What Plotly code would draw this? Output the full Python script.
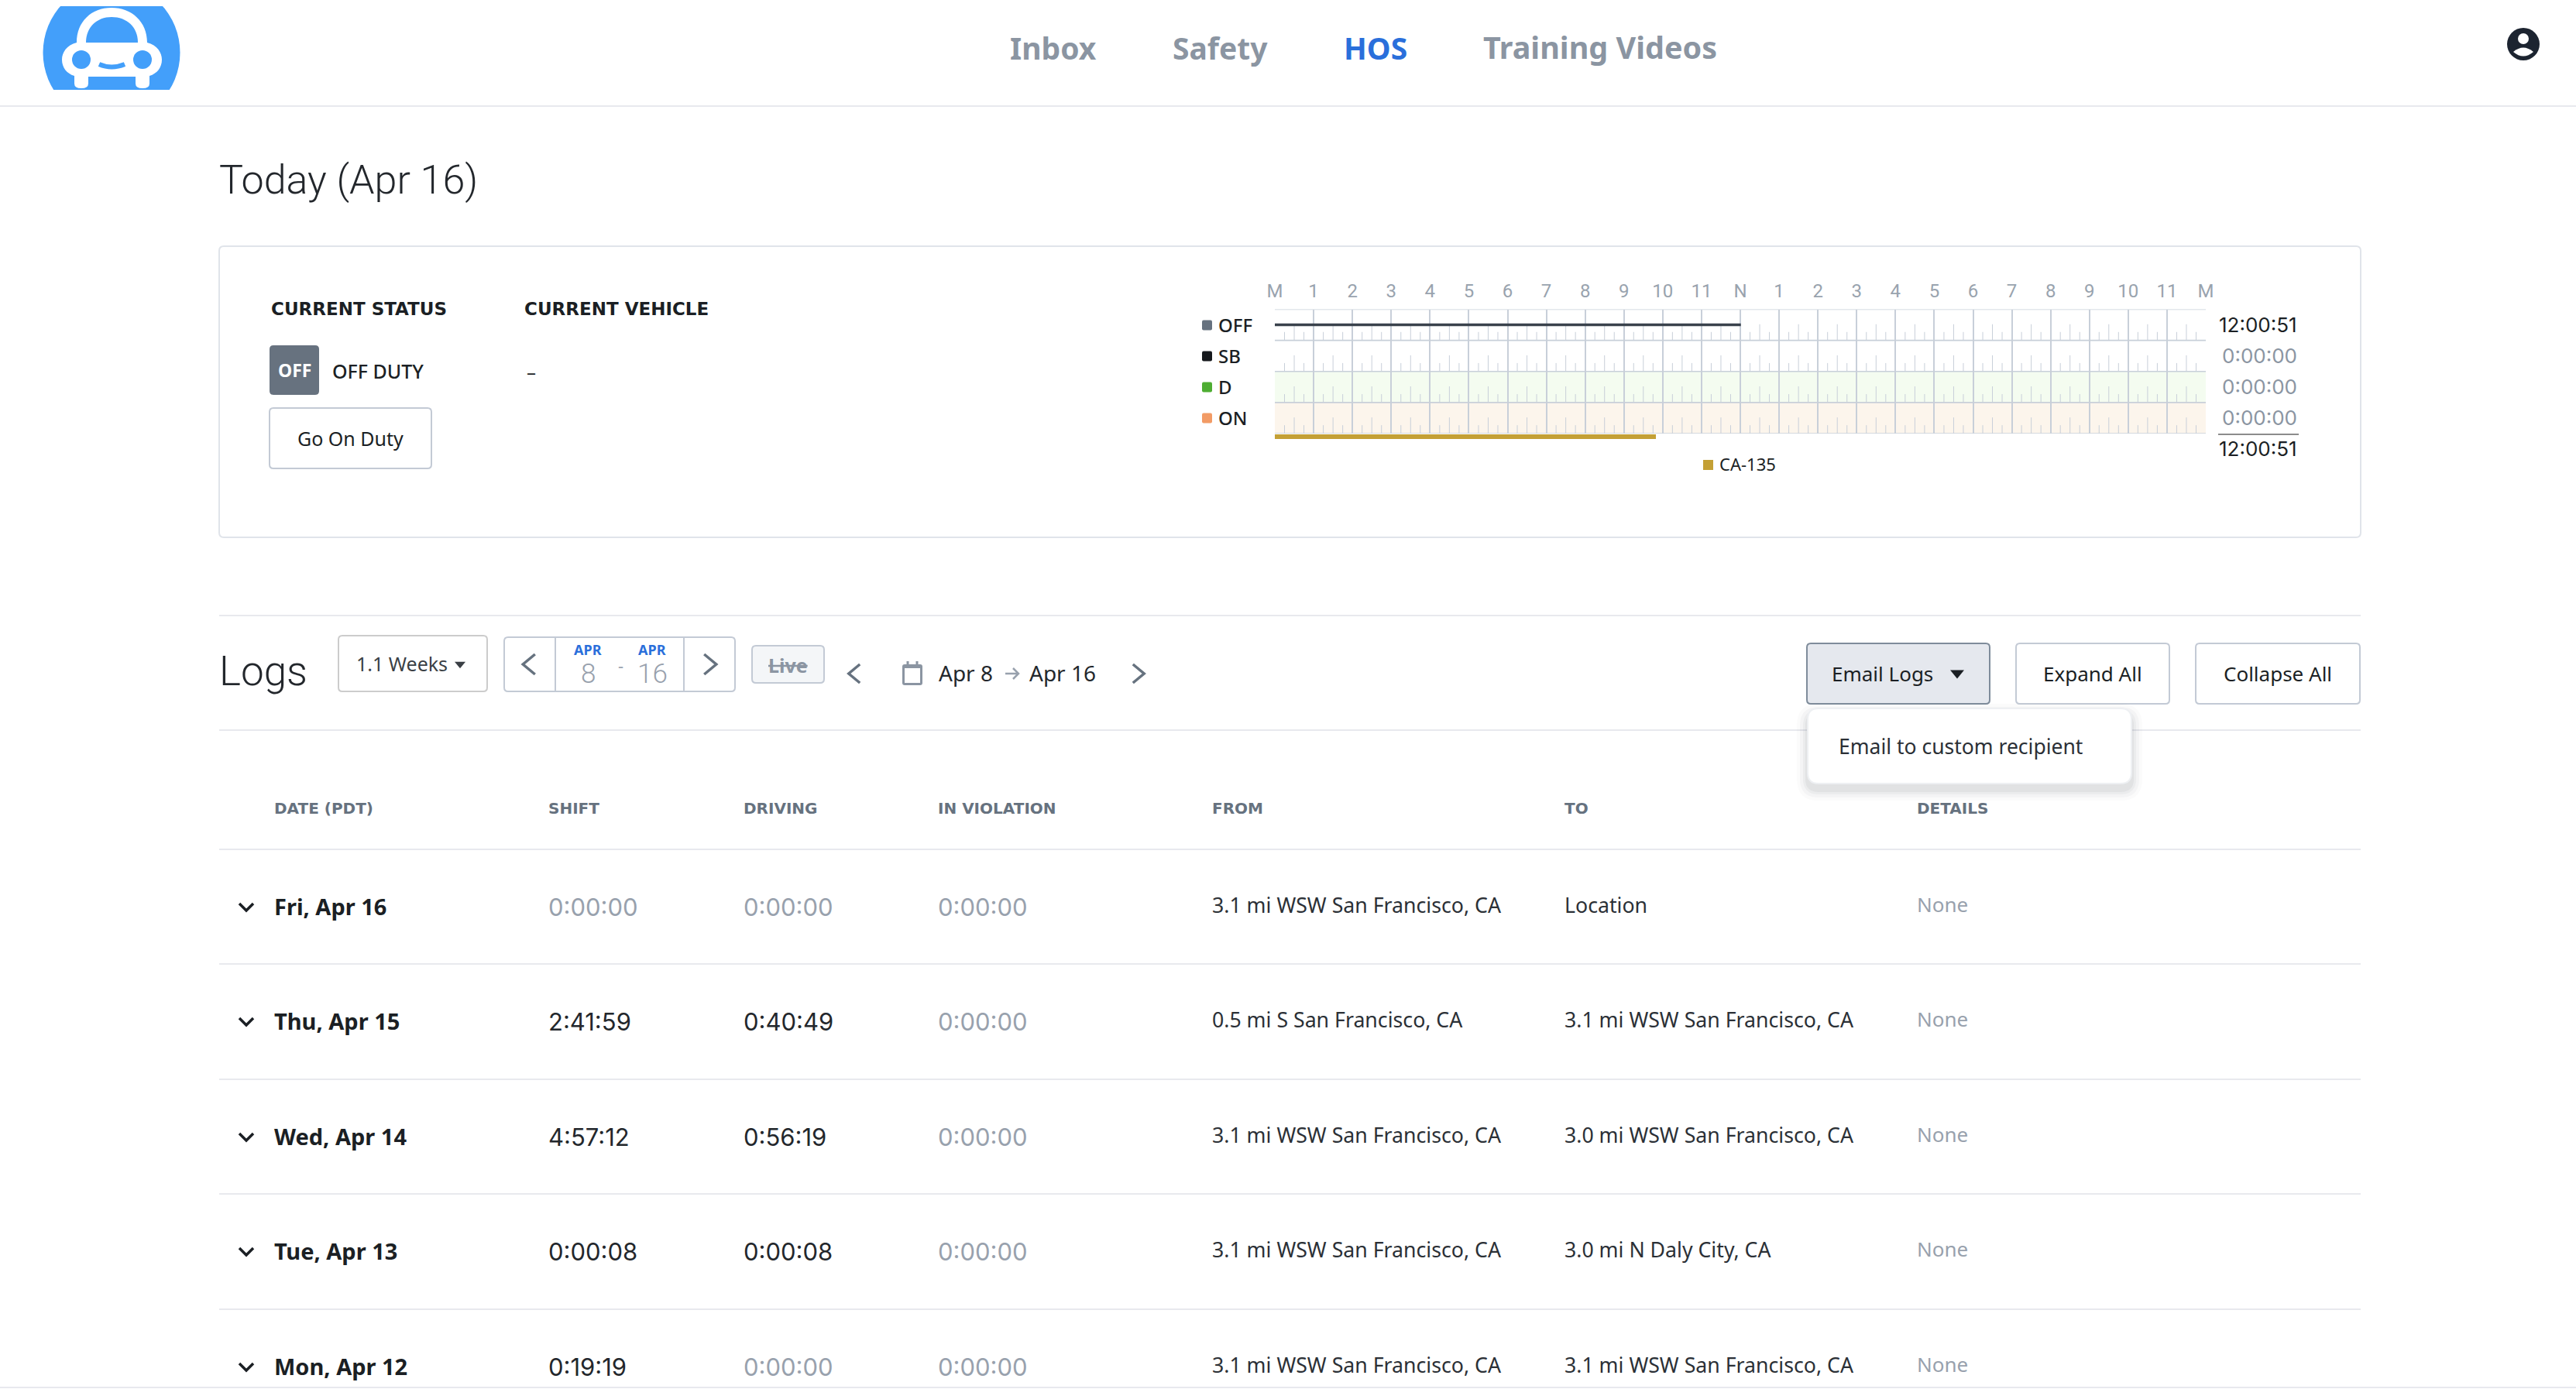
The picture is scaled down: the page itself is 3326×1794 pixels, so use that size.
import plotly.graph_objects as go

# duty log chart
status_names = ['OFF', 'SB', 'D', 'ON']
status_colors = ['#66727f', '#16191d', '#4ead32', '#f29b65']
status_totals = ['12:00:51', '0:00:00', '0:00:00', '0:00:00']
total_time = '12:00:51'
hour_labels = ['M', '1', '2', '3', '4', '5', '6', '7', '8', '9', '10', '11',
               'N', '1', '2', '3', '4', '5', '6', '7', '8', '9', '10', '11', 'M']
off_duty_start = 0
off_duty_end = 12.014
vehicle_name = 'CA-135'
vehicle_hours = 9.82

# table
table_headers = ['DATE (PDT)', 'SHIFT', 'DRIVING', 'IN VIOLATION', 'FROM', 'TO', 'DETAILS']
log_dates = ['Fri, Apr 16', 'Thu, Apr 15', 'Wed, Apr 14', 'Tue, Apr 13', 'Mon, Apr 12']
log_shift = ['0:00:00', '2:41:59', '4:57:12', '0:00:08', '0:19:19']
log_driving = ['0:00:00', '0:40:49', '0:56:19', '0:00:08', '0:00:00']
log_violation = ['0:00:00', '0:00:00', '0:00:00', '0:00:00', '0:00:00']
log_from = ['3.1 mi WSW San Francisco, CA', '0.5 mi S San Francisco, CA',
            '3.1 mi WSW San Francisco, CA', '3.1 mi WSW San Francisco, CA',
            '3.1 mi WSW San Francisco, CA']
log_to = ['Location', '3.1 mi WSW San Francisco, CA', '3.0 mi WSW San Francisco, CA',
          '3.0 mi N Daly City, CA', '3.1 mi WSW San Francisco, CA']
log_details = ['None', 'None', 'None', 'None', 'None']

W, H = 3326, 1794
FONT = 'Noto Sans'
THIN = 'Roboto'
WIDE = 'Inter'
CAPS = 'DejaVu Sans'
DARK = '#23272c'
GRAY = '#8b95a2'
LIGHT = '#98a1ad'
BORDER = '#c3cad5'
RULE = '#e8e9ee'
GRID = '#c8cfd9'

shapes = []
annotations = []


def text(x, y, s, size, color=DARK, anchor='left', weight=400, family=FONT, **font_extra):
    annotations.append(dict(
        x=x, y=y - 1, xref='x', yref='y', text=s, showarrow=False, xanchor=anchor, yanchor='middle',
        borderpad=0, borderwidth=0,
        font=dict(family=family, size=size, color=color, weight=weight, **font_extra)))


def rounded(x0, y0, x1, y1, r):
    return (f'M{x0+r},{y0} L{x1-r},{y0} Q{x1},{y0} {x1},{y0+r} L{x1},{y1-r} Q{x1},{y1} {x1-r},{y1} '
            f'L{x0+r},{y1} Q{x0},{y1} {x0},{y1-r} L{x0},{y0+r} Q{x0},{y0} {x0+r},{y0} Z')


def box(x0, y0, x1, y1, r=5, fill='white', line=BORDER, width=2, layer='above'):
    shapes.append(dict(type='path', path=rounded(x0, y0, x1, y1, r), xref='x', yref='y',
                       fillcolor=fill, line=dict(color=line, width=width), layer=layer))


def rule(x0, y0, x1, y1, color=RULE, width=2):
    shapes.append(dict(type='line', x0=x0, y0=y0, x1=x1, y1=y1, xref='x', yref='y',
                       line=dict(color=color, width=width), layer='above'))


def path(d, fill='rgba(0,0,0,0)', line='rgba(0,0,0,0)', width=0):
    shapes.append(dict(type='path', path=d, xref='x', yref='y', fillcolor=fill,
                       line=dict(color=line, width=width), layer='above'))


def circle(cx, cy, rx, ry, fill):
    shapes.append(dict(type='circle', x0=cx-rx, x1=cx+rx, y0=cy-ry, y1=cy+ry, xref='x', yref='y',
                       fillcolor=fill, line=dict(width=0), layer='above'))


def chevron(x, y, direction, size=10, color='#66727f', width=3.5):
    dx = size * 0.6 * direction
    path(f'M{x-dx},{y-size} L{x+dx},{y} L{x-dx},{y+size}', line=color, width=width)


def caret(x, y, size=8, color=DARK):
    path(f'M{x-size},{y-size*0.6} L{x+size},{y-size*0.6} L{x},{y+size*0.6} Z', fill=color)


# logo
BLUE = '#439ffa'
circle(144, 68, 88.5, 90, BLUE)
shapes.append(dict(type='rect', x0=40, x1=250, y0=-10, y1=8, xref='x', yref='y', fillcolor='white',
                   line=dict(width=0), layer='above'))
shapes.append(dict(type='rect', x0=40, x1=250, y0=116, y1=170, xref='x', yref='y', fillcolor='white',
                   line=dict(width=0), layer='above'))
path('M99,55 C99,28 118,10 144,10 C170,10 190,28 190,55 C203,58 209,68 209,77 C209,87 203,95 193,98 '
     'L193,108 Q193,114 184,114 Q175,114 175,108 L175,99 L114,99 L114,108 Q114,114 105,114 Q96,114 96,108 '
     'L96,98 C86,95 80,87 80,77 C80,68 86,58 99,55 Z', fill='white')
path('M111,55 C111,35 125,22 144,22 C164,22 178,35 178,55 Z', fill=BLUE)
circle(105, 77, 12, 12, BLUE)
circle(184, 77, 12, 12, BLUE)
path('M128,83 Q144,90 161,83', line=BLUE, width=6)

# nav
text(1304, 62, 'Inbox', 39, GRAY, weight=700)
text(1514, 62, 'Safety', 39, GRAY, weight=700)
text(1735, 62, 'HOS', 39, '#2a6fdb', weight=700)
text(1915, 62, 'Training Videos', 39.5, GRAY, weight=700)
circle(3258, 57, 21, 21, '#1c2430')
circle(3258, 50, 7, 7, 'white')
path('M3245,67 Q3258,56 3271,67 Q3258,78 3245,67 Z', fill='white')
rule(0, 137, W, 137)

text(283, 233, 'Today (Apr 16)', 52, DARK, weight=300, family=THIN)

# current status card
box(283, 318, 3048, 694, r=6, line='#e0e4ea', layer='below')
text(350, 400, 'CURRENT STATUS', 23, '#1b1f24', weight=700, family=CAPS)
text(677, 400, 'CURRENT VEHICLE', 23, '#1b1f24', weight=700, family=CAPS)
box(348, 446, 412, 510, fill='#67727f', line='#67727f', width=0)
text(380, 479, 'OFF', 23, 'white', 'center', 700)
text(429, 480, 'OFF DUTY', 25, '#1b1f24', weight=500)
text(680, 480, '–', 24, '#1b1f24')
box(348, 527, 557, 605)
text(452, 567, 'Go On Duty', 25, '#1b1f24', 'center')

# legend and totals next to the log grid
row_centers = [420, 460, 500, 540]
for name, color, total, cy in zip(status_names, status_colors, status_totals, row_centers):
    box(1552, cy-6.5, 1565, cy+6.5, r=2, fill=color, line=color, width=0)
    text(1573, cy, name, 24, '#1b1f24', weight=500)
    text(2966, cy, total, 26, '#1b1f24' if total != '0:00:00' else GRAY, 'right', family=WIDE)
rule(2864, 561, 2968, 561, '#8c8c8c')
text(2966, 580, total_time, 26, '#1b1f24', 'right', family=WIDE)
shapes.append(dict(type='rect', x0=2199, x1=2212, y0=594, y1=607, xref='x', yref='y',
                   fillcolor='#c4a035', line=dict(width=0), layer='above'))
text(2220, 600, vehicle_name, 22, '#1b1f24')

# logs toolbar
rule(283, 795, 3048, 795)
rule(283, 943, 3048, 943)
text(283, 868, 'Logs', 53, DARK, weight=300, family=THIN)
box(437, 821, 629, 893, line='#cccccc')
text(460, 858, '1.1 Weeks', 25, '#3a3f45')
caret(594, 859, 7, '#3a3f45')
box(651, 823, 949, 893)
rule(717, 823, 717, 893, BORDER)
rule(883, 823, 883, 893, BORDER)
chevron(683, 858, -1, 13)
chevron(917, 858, 1, 13)
text(759, 840, 'APR', 18, '#2a6fdb', 'center', 700)
text(842, 840, 'APR', 18, '#2a6fdb', 'center', 700)
text(759, 871, '8', 35, LIGHT, 'center', 300, family=THIN)
text(842, 871, '16', 35, LIGHT, 'center', 300, family=THIN)
text(801, 860, '-', 22, LIGHT, 'center')
box(971, 834, 1064, 882, fill='#f4f6f8')
text(1017, 860, 'Live', 25, GRAY, 'center', 700, lineposition='through')
chevron(1103, 870, -1, 12)
box(1165, 858, 1191, 885, r=3, fill='#8b95a2', line='#8b95a2', width=0)
rule(1172, 854, 1172, 860, '#8b95a2', 3)
rule(1184, 854, 1184, 860, '#8b95a2', 3)
shapes.append(dict(type='rect', x0=1168, x1=1188, y0=863, y1=882, xref='x', yref='y', fillcolor='white',
                   line=dict(width=0), layer='above'))
text(1212, 870, 'Apr 8', 28, DARK)
path('M1298,870 L1314,870 M1308,863 L1315,870 L1308,877', line=LIGHT, width=2.5)
text(1329, 870, 'Apr 16', 28, DARK)
chevron(1470, 870, 1, 12)

box(2333, 831, 2569, 909, fill='#e5e8ee', line='#7f8c9b')
text(2365, 871, 'Email Logs', 26, '#1b1f24')
caret(2527, 871, 9, '#1b1f24')
box(2603, 831, 2801, 909)
text(2702, 871, 'Expand All', 26, '#1b1f24', 'center')
box(2835, 831, 3047, 909)
text(2941, 871, 'Collapse All', 26, '#1b1f24', 'center')

# table
header_x = [354, 708, 960, 1211, 1565, 2020, 2475]
for hx, label in zip(header_x, table_headers):
    text(hx, 1045, label, 20, '#66727f', weight=700, family=CAPS)

row_y = [1171, 1319, 1468, 1616, 1765]
for i, cy in enumerate(row_y):
    rule(283, cy-74, 3048, cy-74)
    path(f'M{309},{cy-4} L{318},{cy+5} L{327},{cy-4}', line='#1b1f24', width=3.5)
    text(354, cy, log_dates[i], 29, '#1b1f24', weight=700)
    for hx, val in zip(header_x[1:4], [log_shift[i], log_driving[i], log_violation[i]]):
        text(hx, cy+1, val, 31, LIGHT if val == '0:00:00' else DARK, family=WIDE)
    text(1565, cy-2, log_from[i], 26.7, '#2b3036')
    text(2020, cy-2, log_to[i], 26.7, '#2b3036')
    text(2475, cy-2, log_details[i], 26, LIGHT)
rule(0, 1792, W, 1792)

# dropdown with a soft shadow, drawn after the rule it sits on
for grow, alpha in [(14, 0.02), (10, 0.03), (6, 0.04), (3, 0.05)]:
    box(2334-grow, 915-grow+8, 2752+grow, 1012+grow+8, r=14+grow, fill=f'rgba(30,40,60,{alpha})',
        line='rgba(0,0,0,0)', width=0)
box(2334, 915, 2752, 1012, r=14, line='#eef0f3')
text(2374, 965, 'Email to custom recipient', 26.5, '#2b3036')

# tick marks inside each row of the log grid
tick_x = []
tick_y = []
for row in range(len(status_names)):
    for hour in range(24):
        for frac, length in [(0.25, 0.27), (0.5, 0.52), (0.75, 0.27)]:
            tick_x += [hour + frac, hour + frac, None]
            tick_y += [row + 1, row + 1 - length, None]

# row separators
sep_x = []
sep_y = []
for row in range(len(status_names) + 1):
    sep_x += [0, 24, None]
    sep_y += [row, row, None]

# row tints sit under the grid lines
shapes.append(dict(type='rect', xref='x2', yref='y2', x0=0, x1=24, y0=2, y1=3,
                   fillcolor='#f4fcf0', line=dict(width=0), layer='below'))
shapes.append(dict(type='rect', xref='x2', yref='y2', x0=0, x1=24, y0=3, y1=4,
                   fillcolor='#fcf5ec', line=dict(width=0), layer='below'))

fig = go.Figure()
fig.add_trace(go.Scatter(x=sep_x, y=sep_y, xaxis='x2', yaxis='y2', mode='lines',
                         line=dict(color=GRID, width=1.6), hoverinfo='skip', showlegend=False,
                         cliponaxis=False))
fig.add_trace(go.Scatter(x=tick_x, y=tick_y, xaxis='x2', yaxis='y2', mode='lines',
                         line=dict(color=GRID, width=1), hoverinfo='skip', showlegend=False))
fig.add_trace(go.Scatter(x=[off_duty_start, off_duty_end], y=[0.5, 0.5], xaxis='x2', yaxis='y2',
                         mode='lines', line=dict(color='#3a424c', width=3.5), showlegend=False,
                         cliponaxis=False))
fig.add_trace(go.Bar(x=[vehicle_hours], y=[vehicle_name], orientation='h', xaxis='x3', yaxis='y3',
                     marker=dict(color='#c4a035', line=dict(width=0)), showlegend=False))

fig.update_layout(
    width=W, height=H, autosize=False,
    margin=dict(l=0, r=0, t=0, b=0, autoexpand=False),
    paper_bgcolor='white', plot_bgcolor='rgba(0,0,0,0)',
    bargap=0,
    showlegend=False,
    shapes=shapes,
    annotations=annotations,
    xaxis=dict(domain=[0, 1], range=[0, W], visible=False),
    yaxis=dict(domain=[0, 1], range=[H, 0], visible=False),
    xaxis2=dict(domain=[1646 / W, 2848 / W], range=[0, 24], anchor='y2', side='top',
                tickmode='array', tickvals=list(range(25)), ticktext=hour_labels,
                tickfont=dict(family='Roboto', size=24, color='#99a3ae'), ticks='', ticklabelstandoff=10,
                showgrid=True, gridcolor=GRID, gridwidth=1.6, showline=False, zeroline=False),
    yaxis2=dict(domain=[1 - 560 / H, 1 - 399.5 / H], range=[4, 0], anchor='x2',
                showticklabels=False, ticks='', showgrid=False, showline=False, zeroline=False),
    xaxis3=dict(domain=[1646 / W, 2848 / W], range=[0, 24], anchor='y3', visible=False),
    yaxis3=dict(domain=[1 - 567 / H, 1 - 560.5 / H], anchor='x3', visible=False),
)

fig.write_html('out.html', config={'displayModeBar': False},
               post_script="document.body.style.margin='0';")
